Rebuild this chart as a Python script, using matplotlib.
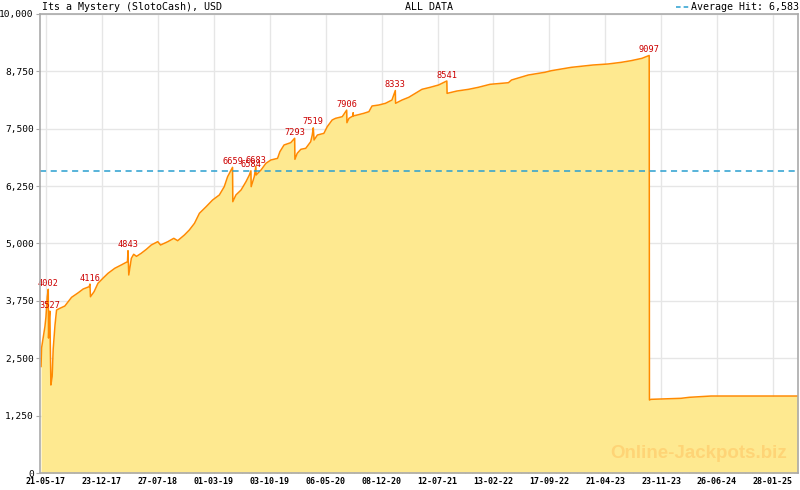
import numpy as np
import matplotlib
matplotlib.use("Agg")
import matplotlib.pyplot as plt
import matplotlib.dates as mdates
from matplotlib.ticker import FuncFormatter, FixedLocator

# jackpot history
dates = [
    "2017-05-02", "2017-05-04", "2017-05-11", "2017-05-17", "2017-05-21", "2017-05-26",
    "2017-05-30", "2017-05-31", "2017-06-03", "2017-06-05", "2017-06-09", "2017-06-14",
    "2017-06-18", "2017-06-25", "2017-07-01", "2017-07-14", "2017-08-02", "2017-08-15",
    "2017-08-28", "2017-09-23", "2017-10-12", "2017-11-04", "2017-11-07", "2017-11-09",
    "2017-11-23", "2017-12-08", "2017-12-27", "2018-01-16", "2018-02-11", "2018-03-08",
    "2018-04-01", "2018-04-03", "2018-04-06", "2018-04-16", "2018-04-25", "2018-05-06",
    "2018-05-24", "2018-06-13", "2018-07-02", "2018-07-27", "2018-08-07", "2018-09-04",
    "2018-09-27", "2018-10-12", "2018-11-07", "2018-11-26", "2018-12-16", "2019-01-04",
    "2019-01-30", "2019-02-24", "2019-03-22", "2019-04-10", "2019-04-23", "2019-05-12",
    "2019-05-13", "2019-05-25", "2019-06-14", "2019-07-03", "2019-07-16", "2019-07-22",
    "2019-07-23", "2019-08-04", "2019-08-10", "2019-08-11", "2019-08-30", "2019-09-18",
    "2019-10-07", "2019-11-02", "2019-11-11", "2019-11-27", "2019-12-23", "2020-01-07",
    "2020-01-08", "2020-01-17", "2020-01-31", "2020-02-19", "2020-03-09", "2020-03-15",
    "2020-03-19", "2020-03-22", "2020-04-04", "2020-04-29", "2020-05-12", "2020-05-31",
    "2020-06-13", "2020-07-09", "2020-07-26", "2020-07-27", "2020-08-04", "2020-08-19",
    "2020-08-20", "2020-08-21", "2020-09-05", "2020-09-30", "2020-10-20", "2020-11-01",
    "2020-11-27", "2020-12-23", "2021-01-17", "2021-01-30", "2021-01-31", "2021-02-25",
    "2021-03-23", "2021-04-17", "2021-05-13", "2021-06-14", "2021-07-16", "2021-08-17",
    "2021-08-18", "2021-09-25", "2021-11-09", "2021-12-17", "2022-01-31", "2022-04-12",
    "2022-04-24", "2022-06-28", "2022-08-31", "2022-09-25", "2022-12-11", "2023-03-05",
    "2023-05-02", "2023-06-22", "2023-07-30", "2023-09-10", "2023-10-08", "2023-10-09",
    "2023-10-15", "2024-02-08", "2024-03-11", "2024-06-03", "2025-05-05",
]
values = [
    2320, 2720, 2970, 3190, 3400, 3840,
    4002, 2940, 3405, 3527, 1917, 2100,
    2700, 3225, 3551, 3588, 3638, 3732,
    3827, 3928, 4009, 4059, 4116, 3840,
    3950, 4133, 4242, 4351, 4460, 4532,
    4604, 4843, 4314, 4677, 4765, 4720,
    4786, 4873, 4967, 5040, 4967, 5040,
    5113, 5061, 5185, 5294, 5440, 5658,
    5802, 5948, 6057, 6238, 6456, 6659,
    5911, 6057, 6166, 6347, 6492, 6584,
    6238, 6456, 6683, 6492, 6601, 6747,
    6819, 6855, 7000, 7146, 7197, 7293,
    6834, 6965, 7052, 7074, 7218, 7364,
    7519, 7255, 7364, 7400, 7545, 7691,
    7727, 7763, 7906, 7632, 7727, 7778,
    7850, 7780, 7800, 7836, 7872, 7996,
    8017, 8054, 8126, 8333, 8054, 8126,
    8185, 8271, 8359, 8403, 8453, 8541,
    8271, 8322, 8359, 8403, 8468, 8503,
    8562, 8671, 8730, 8765, 8838, 8889,
    8911, 8947, 8983, 9034, 9097, 1590,
    1605, 1627, 1649, 1677, 1677,
]

# hits that get a red label
peak_dates = ["2017-05-30", "2017-06-05", "2017-11-07", "2018-04-03", "2019-05-12",
              "2019-07-22", "2019-08-10", "2020-01-07", "2020-03-19", "2020-07-26",
              "2021-01-30", "2021-08-17", "2023-10-08"]
peak_values = [4002, 3527, 4116, 4843, 6659, 6584, 6683, 7293, 7519, 7906, 8333, 8541, 9097]

average_hit = 6583
y_ticks = [0, 1250, 2500, 3750, 5000, 6250, 7500, 8750, 10000]
x_tick_dates = ["2017-05-21", "2017-12-23", "2018-07-27", "2019-03-01", "2019-10-03",
                "2020-05-06", "2020-12-08", "2021-07-12", "2022-02-13", "2022-09-17",
                "2023-04-21", "2023-11-23", "2024-06-26", "2025-01-28"]

x = np.array(dates, dtype="datetime64[D]")
y = np.array(values)

fig = plt.figure(figsize=(8, 4.9), dpi=100)
ax = fig.add_axes([40 / 800, 17 / 490, 758 / 800, 459 / 490])

ax.fill_between(x, 0, y, color="#fee990", linewidth=0, zorder=2)
ax.plot(x, y, color="#ff8a00", linewidth=1.1, zorder=3)
ax.axhline(average_hit, color="#2a9fd0", linewidth=1.1, dashes=(4, 3), zorder=4)

mono = "DejaVu Sans Mono"
for d, v in zip(peak_dates, peak_values):
    ax.annotate(str(v), (np.datetime64(d), v), xytext=(0, 1), textcoords="offset points",
                ha="center", va="bottom", fontsize=6.2, color="#cc0000", family=mono, zorder=5)

# x axis ticks: labelled dates plus 7 minor ticks between each pair
major = mdates.date2num(np.array(x_tick_dates, dtype="datetime64[D]"))
step = (major[-1] - major[0]) / (len(major) - 1) / 8
minor = major[0] + np.arange(-1, 8 * len(major) + 2) * step
ax.set_xlim(np.datetime64("2017-04-28"), np.datetime64("2025-05-05"))
ax.xaxis.set_major_locator(FixedLocator(major))
ax.xaxis.set_minor_locator(FixedLocator(minor))
ax.xaxis.set_major_formatter(mdates.DateFormatter("%d-%m-%y"))

ax.set_ylim(0, 10000)
ax.set_yticks(y_ticks)
ax.yaxis.set_major_formatter(FuncFormatter(lambda v, p: f"{int(v):,}"))

ax.grid(True, color="#e6e6e6", linewidth=1.0, zorder=0)
ax.set_axisbelow(True)
for s in ax.spines.values():
    s.set_color("#aaaaaa")
    s.set_linewidth(1.2)
    s.set_zorder(6)

ax.tick_params(axis="x", which="major", direction="in", length=5, color="#aaaaaa",
               labelsize=6, pad=3)
ax.tick_params(axis="x", which="minor", direction="in", length=3, color="#aaaaaa")
ax.tick_params(axis="y", direction="out", length=3, color="#aaaaaa", labelsize=6.8, pad=1.5)
for lab in ax.get_xticklabels():
    lab.set_family(mono)
    lab.set_fontweight("bold")
for lab in ax.get_yticklabels():
    lab.set_family(mono)

fig.text(42 / 800, 1 - 7 / 490, "Its a Mystery (SlotoCash), USD", fontsize=7.2,
         family=mono, va="center", ha="left")
fig.text(429 / 800, 1 - 7 / 490, "ALL DATA", fontsize=7.2, family=mono, va="center", ha="center")
fig.text(799 / 800, 1 - 7 / 490, "Average Hit: 6,583", fontsize=7.2, family=mono,
         va="center", ha="right")
fig.lines.append(plt.Line2D([676 / 800, 689 / 800], [1 - 7 / 490, 1 - 7 / 490],
                            transform=fig.transFigure, color="#2a9fd0", linewidth=1.1,
                            dashes=(3, 2)))

ax.text(0.985, 0.025, "Online-Jackpots.biz", transform=ax.transAxes, ha="right", va="bottom",
        fontsize=13.5, fontweight="bold", family="Liberation Sans", color="#ffcf70",
        alpha=0.8, zorder=5)

fig.savefig("out.png", dpi=100)
